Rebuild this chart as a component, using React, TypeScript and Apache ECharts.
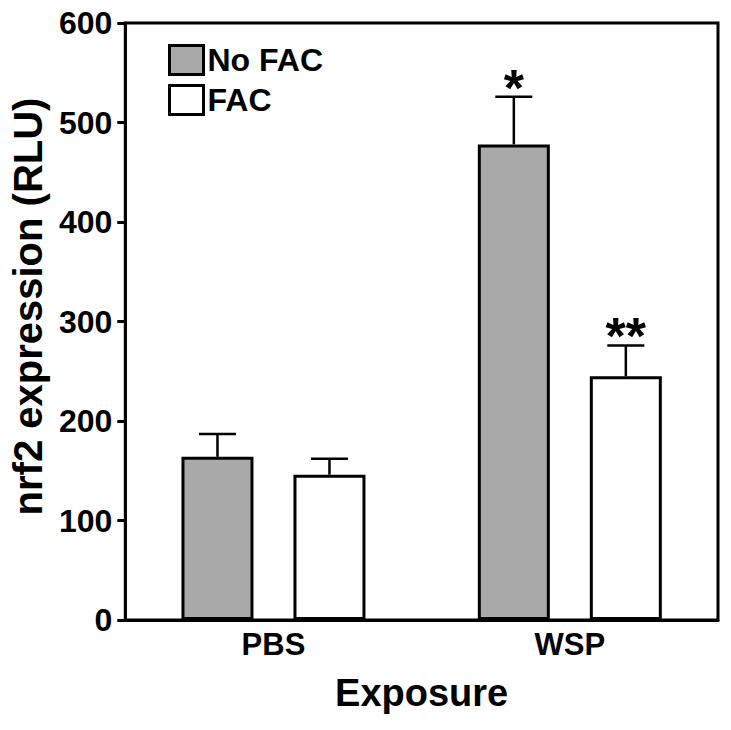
import React, { useEffect, useRef } from "react";
import * as echarts from "echarts";

const categories = ["PBS", "WSP"];
const noFacMeans = [164, 478];
const noFacUpper = [187, 526];
const facMeans = [146, 245];
const facUpper = [162, 276];
const noFacSig = ["", "*"];
const facSig = ["", "**"];
const yTicks = { min: 0, max: 600, interval: 100 };

const FONT = "'Liberation Sans', Arial, sans-serif";
const BAR_W = 72;
const GAP_PX = 40;
const CAP_W = 37;

function errorSeries(name: string, means: number[], upper: number[], sig: string[], dir: number) {
  return {
    type: "custom",
    name: name + " err",
    z: 5,
    silent: true,
    data: means.map((m, i) => [i, m, upper[i]]),
    encode: { x: 0, y: 2 },
    renderItem: (params: any, api: any) => {
      const cat = api.value(0);
      const mean = api.value(1);
      const up = api.value(2);
      const base = api.coord([cat, mean]);
      const top = api.coord([cat, up]);
      const x = base[0] + dir * (BAR_W + GAP_PX) / 2;
      const children: any[] = [
        { type: "line", shape: { x1: x, y1: base[1], x2: x, y2: top[1] }, style: { stroke: "#000", lineWidth: 2.5 } },
        { type: "line", shape: { x1: x - CAP_W / 2, y1: top[1], x2: x + CAP_W / 2, y2: top[1] }, style: { stroke: "#000", lineWidth: 2.5 } },
      ];
      const s = sig[params.dataIndex];
      if (s) {
        children.push({
          type: "text",
          style: {
            x: x,
            y: top[1] - 9,
            text: s,
            fill: "#000",
            font: "bold 52px " + FONT,
            align: "center",
            verticalAlign: "middle",
          },
        });
      }
      return { type: "group", children };
    },
  };
}

export default function App() {
  const ref = useRef<HTMLDivElement>(null);
  useEffect(() => {
    if (!ref.current) return;
    const chart = echarts.init(ref.current, null, { renderer: "svg" });
    chart.setOption({
      animation: false,
      backgroundColor: "#fff",
      textStyle: { fontFamily: FONT, color: "#000" },
      grid: { left: 122, right: 13, top: 23, bottom: 110, show: true, borderColor: "#000", borderWidth: 3 },
      legend: {
        orient: "vertical",
        left: 168,
        top: 44,
        padding: 0,
        itemWidth: 34,
        itemHeight: 29,
        itemGap: 8,
        icon: "rect",
        data: ["No FAC", "FAC"],
        itemStyle: { borderColor: "#000", borderWidth: 3 },
        textStyle: { fontSize: 32, fontWeight: "bold", fontFamily: FONT, color: "#000", padding: [2, 0, 0, -1] },
        selectedMode: false,
      },
      xAxis: {
        type: "category",
        data: categories,
        name: "Exposure",
        nameLocation: "middle",
        nameGap: 54,
        nameTextStyle: { fontSize: 38, fontWeight: "bold", fontFamily: FONT, color: "#000" },
        axisLine: { lineStyle: { color: "#000", width: 3 } },
        axisTick: { alignWithLabel: true, length: 7, lineStyle: { color: "#000", width: 3 } },
        axisLabel: { margin: 9, fontSize: 31, fontWeight: "bold", fontFamily: FONT, color: "#000" },
      },
      yAxis: {
        type: "value",
        min: yTicks.min,
        max: yTicks.max,
        interval: yTicks.interval,
        name: "nrf2 expression (RLU)",
        nameLocation: "middle",
        nameGap: 66,
        nameTextStyle: { fontSize: 40, fontWeight: "bold", fontFamily: FONT, color: "#000", padding: [0, 0, 0, 30] },
        axisLine: { show: true, lineStyle: { color: "#000", width: 3 } },
        axisTick: { show: true, length: 8, lineStyle: { color: "#000", width: 3 } },
        axisLabel: { margin: 13, fontSize: 32, fontWeight: "bold", fontFamily: FONT, color: "#000" },
        splitLine: { show: false },
      },
      series: [
        {
          type: "bar",
          name: "No FAC",
          data: noFacMeans,
          barWidth: BAR_W,
          barGap: (GAP_PX / BAR_W) * 100 + "%",
          itemStyle: { color: "#a9a9a9", borderColor: "#000", borderWidth: 3 },
        },
        {
          type: "bar",
          name: "FAC",
          data: facMeans,
          barWidth: BAR_W,
          barGap: (GAP_PX / BAR_W) * 100 + "%",
          itemStyle: { color: "#ffffff", borderColor: "#000", borderWidth: 3 },
        },
        errorSeries("No FAC", noFacMeans, noFacUpper, noFacSig, -1),
        errorSeries("FAC", facMeans, facUpper, facSig, 1),
      ],
    });
    return () => chart.dispose();
  }, []);
  return <div ref={ref} style={{ position: "fixed", left: 0, top: 0, width: 731, height: 730 }} />;
}
